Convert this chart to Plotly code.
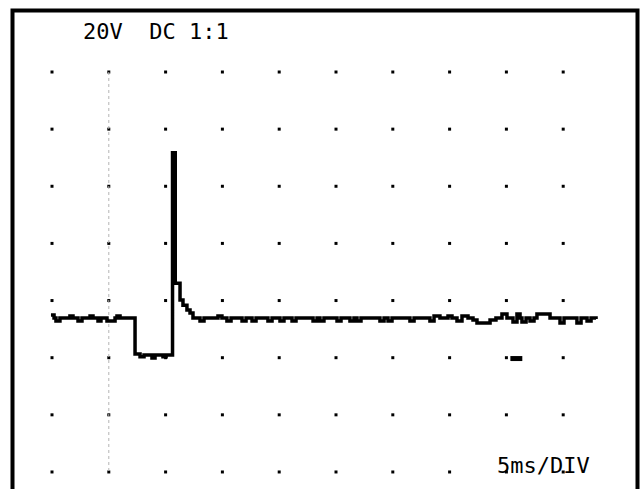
import plotly.graph_objects as go

# ---- data (time in ms, voltage in V) ----
time_ms = [-0.09, 0.18, 0.35, 0.70, 1.58, 1.85, 2.29, 2.64, 3.35, 3.61, 4.05, 4.31, 4.84, 5.55, 5.72, 5.99,
           7.31, 7.75, 8.10, 8.80, 9.07, 9.77, 10.04,
           10.61, 10.85, 11.27, 11.53, 11.88, 12.15,
           12.41, 13.03, 13.38, 14.61, 14.96, 15.40, 15.76, 16.73, 17.08, 17.61, 17.96, 19.01, 19.37,
           20.07, 20.42, 21.13, 21.48, 22.98, 23.33, 23.59, 23.94, 25.09, 25.44, 26.23, 26.58, 26.85,
           27.20, 28.87, 29.23, 29.58, 29.93, 31.51, 31.87, 33.27, 33.63, 34.15, 34.86, 35.21, 35.65,
           36.09, 36.62, 37.06, 37.41, 38.56, 39.08, 39.61, 40.05, 40.58, 40.93, 41.20, 41.37, 41.73,
           42.08, 42.43, 42.69, 43.84, 44.72, 45.07, 46.21, 46.57, 47.10, 47.45, 47.89]
volts = [14.9, 13.9, 12.8, 13.9, 14.6, 13.9, 12.8, 13.9, 14.6, 13.9, 12.8, 13.9, 12.8, 13.9, 14.6, 13.9,
         1.3, 0.3, 0.9, -0.1, 0.9, 0.3, 0.9,
         71.7, 26.1, 20.2, 18.4, 16.7, 15.6,
         13.9, 12.8, 13.9, 14.6, 13.9, 12.8, 13.9, 12.8, 13.9, 12.8, 13.9, 12.8, 13.9,
         12.8, 13.9, 12.8, 13.9, 12.8, 13.9, 12.8, 13.9, 12.8, 13.9, 12.8, 13.9, 12.8,
         13.9, 12.8, 13.9, 12.8, 13.9, 12.8, 13.9, 12.8, 14.6, 13.9, 14.6, 13.9, 12.8,
         14.6, 13.9, 13.2, 12.1, 13.2, 13.9, 15.3, 13.9, 12.5, 15.3, 13.9, 12.5, 13.9,
         12.8, 13.9, 15.3, 13.9, 12.1, 13.9, 12.1, 13.9, 12.8, 13.9, 13.5]

grid_x_ms = [0, 5, 10, 15, 20, 25, 30, 35, 40, 45]
grid_y_v = [100, 80, 60, 40, 20, 0, -20, -40]

cursor_t_ms = 5
cursor_v_span = [100, -40]

ground_level_v = 0
ground_marker_t = [40.35, 41.4]

volts_label = "20V"
coupling_label = "DC 1:1"
timebase_label = "5ms/DIV"

# ---- figure ----
fig = go.Figure()

gx = [x for y in grid_y_v for x in grid_x_ms]
gy = [y for y in grid_y_v for x in grid_x_ms]
fig.add_trace(go.Scatter(x=gx, y=gy, mode="markers",
                         marker=dict(symbol="square", size=3, color="black", line=dict(width=0)),
                         hoverinfo="skip"))

fig.add_trace(go.Scatter(x=[cursor_t_ms, cursor_t_ms], y=cursor_v_span, mode="lines",
                         line=dict(color="#b4b4b4", width=1, dash="dot"), hoverinfo="skip"))

fig.add_trace(go.Scatter(x=time_ms, y=volts, mode="lines",
                         line=dict(color="black", width=3.5, shape="hv")))

fig.add_trace(go.Scatter(x=ground_marker_t, y=[ground_level_v - 0.3] * 2, mode="lines",
                         line=dict(color="black", width=5), hoverinfo="skip"))

fig.update_layout(
    width=640, height=489,
    margin=dict(l=0, r=0, t=0, b=0),
    paper_bgcolor="white", plot_bgcolor="white",
    showlegend=False,
    xaxis=dict(range=[-4.577, 51.76], visible=False, fixedrange=True),
    yaxis=dict(range=[-45.96, 125.2], visible=False, fixedrange=True),
    font=dict(family="DejaVu Sans Mono", color="black"),
)

# frame
fig.add_shape(type="rect", xref="paper", yref="paper",
              x0=12.5 / 640, x1=637.5 / 640, y0=-0.1, y1=1 - 10.5 / 489,
              line=dict(color="black", width=4), fillcolor="rgba(0,0,0,0)")

fig.add_annotation(text=volts_label + "  " + coupling_label, xref="paper", yref="paper",
                   x=81 / 640, y=1 - 31.5 / 489, xanchor="left", yanchor="middle",
                   showarrow=False, font=dict(size=22, family="DejaVu Sans Mono"))
fig.add_annotation(text=timebase_label, xref="paper", yref="paper",
                   x=495 / 640, y=1 - 465.5 / 489, xanchor="left", yanchor="middle",
                   showarrow=False, font=dict(size=22, family="DejaVu Sans Mono"))

fig.write_html("out.html", config={"displayModeBar": False},
               post_script="document.body.style.margin='0';document.body.style.padding='0';"
                           "document.body.style.overflow='hidden';")
